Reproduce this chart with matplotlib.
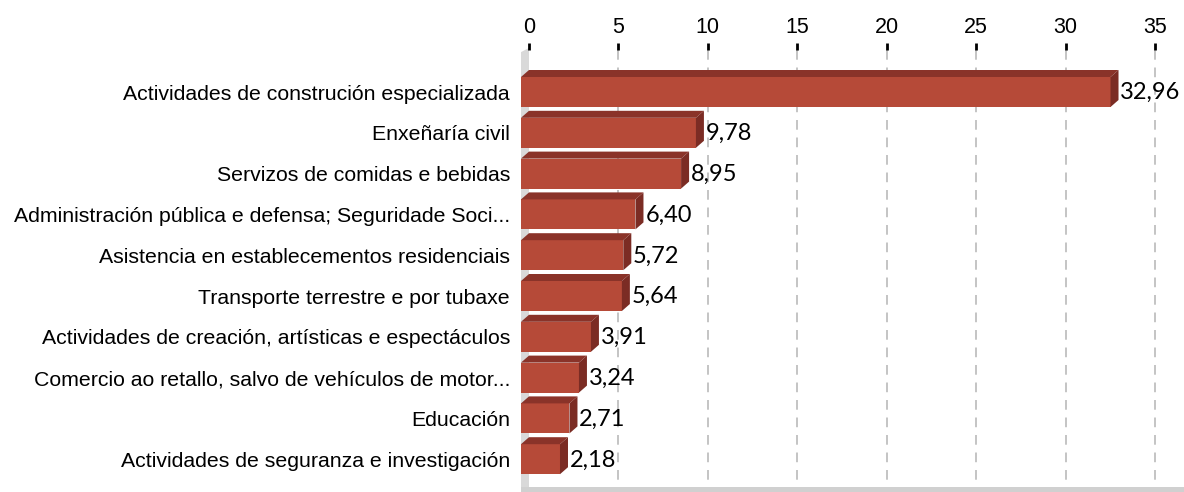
import matplotlib
matplotlib.use("Agg")
import matplotlib.pyplot as plt
from matplotlib.patches import Polygon, Rectangle

categories = [
    "Actividades de construción especializada",
    "Enxeñaría civil",
    "Servizos de comidas e bebidas",
    "Administración pública e defensa; Seguridade Soci...",
    "Asistencia en establecementos residenciais",
    "Transporte terrestre e por tubaxe",
    "Actividades de creación, artísticas e espectáculos",
    "Comercio ao retallo, salvo de vehículos de motor...",
    "Educación",
    "Actividades de seguranza e investigación",
]
values = [32.96, 9.78, 8.95, 6.40, 5.72, 5.64, 3.91, 3.24, 2.71, 2.18]
xticks = [0, 5, 10, 15, 20, 25, 30, 35]

FRONT = "#B64A38"
TOP = "#8A3329"
SIDE = "#7B2C24"
WALL = "#D9D9D9"

W, H = 1184, 492
fig = plt.figure(figsize=(W / 100, H / 100), dpi=100)

# axes placement (pixels)
ax_left, ax_right, ax_top, ax_bottom = 521, 1184, 50, 492
ax = fig.add_axes([ax_left / W, 1 - ax_bottom / H,
                   (ax_right - ax_left) / W, (ax_bottom - ax_top) / H])

px_per_unit = (1155 - 529) / 35.0
row_px = 40.8
dx = 8 / px_per_unit          # depth offset along value axis
dy = 7 / row_px               # depth offset along category axis
h = 30 / row_px               # front face height

xmin = -dx
xmax = (ax_right - 529) / px_per_unit
y_top = (ax_top - 92) / row_px
y_bot = (ax_bottom - 92) / row_px
ax.set_xlim(xmin, xmax)
ax.set_ylim(y_bot, y_top)

# back wall on the left
ax.add_patch(Polygon([(-dx, y_top + dy * 0.3), (0, y_top - 0.05), (0, y_bot), (-dx, y_bot)],
                     closed=True, facecolor=WALL, edgecolor="none", clip_on=False, zorder=1))
# floor
floor_top = (487 - 92) / row_px
ax.add_patch(Rectangle((-dx, floor_top), xmax + dx, y_bot - floor_top,
                       facecolor="#D0D0D0", edgecolor="none", zorder=1))

# dashed gridlines on the back plane
for t in xticks[1:]:
    ax.plot([t, t], [y_top, floor_top], color="#C4C4C4", lw=1.4,
            dashes=(5, 4), zorder=0.5)

for i, v in enumerate(values):
    top_edge = i - h / 2
    bot_edge = i + h / 2
    # front face
    ax.add_patch(Rectangle((-dx, top_edge), v, h, facecolor=FRONT,
                           edgecolor="none", zorder=3))
    # top face
    ax.add_patch(Polygon([(-dx, top_edge), (v - dx, top_edge),
                          (v, top_edge - dy), (0, top_edge - dy)],
                         closed=True, facecolor=TOP, edgecolor="none", zorder=3))
    # right side face
    ax.add_patch(Polygon([(v - dx, top_edge), (v, top_edge - dy),
                          (v, bot_edge - dy), (v - dx, bot_edge)],
                         closed=True, facecolor=SIDE, edgecolor="none", zorder=3))
    ax.text(v + 0.1, i + 0.02, f"{v:.2f}".replace(".", ","), va="center", ha="left",
            fontsize=17, family=["Lato", "DejaVu Sans"], color="black", zorder=4)

ax.set_yticks(range(len(categories)))
ax.set_yticklabels(categories, fontsize=15.3, family=["Liberation Sans", "DejaVu Sans"])
ax.tick_params(axis="y", length=0, pad=8)

ax.xaxis.tick_top()
ax.set_xticks(xticks)
ax.set_xticklabels([str(t) for t in xticks], fontsize=15.5,
                   family=["Liberation Sans", "DejaVu Sans"])
ax.tick_params(axis="x", length=5, width=2, color="black", pad=3.5, direction="out")

for s in ax.spines.values():
    s.set_visible(False)

fig.savefig("out.png", dpi=100)
